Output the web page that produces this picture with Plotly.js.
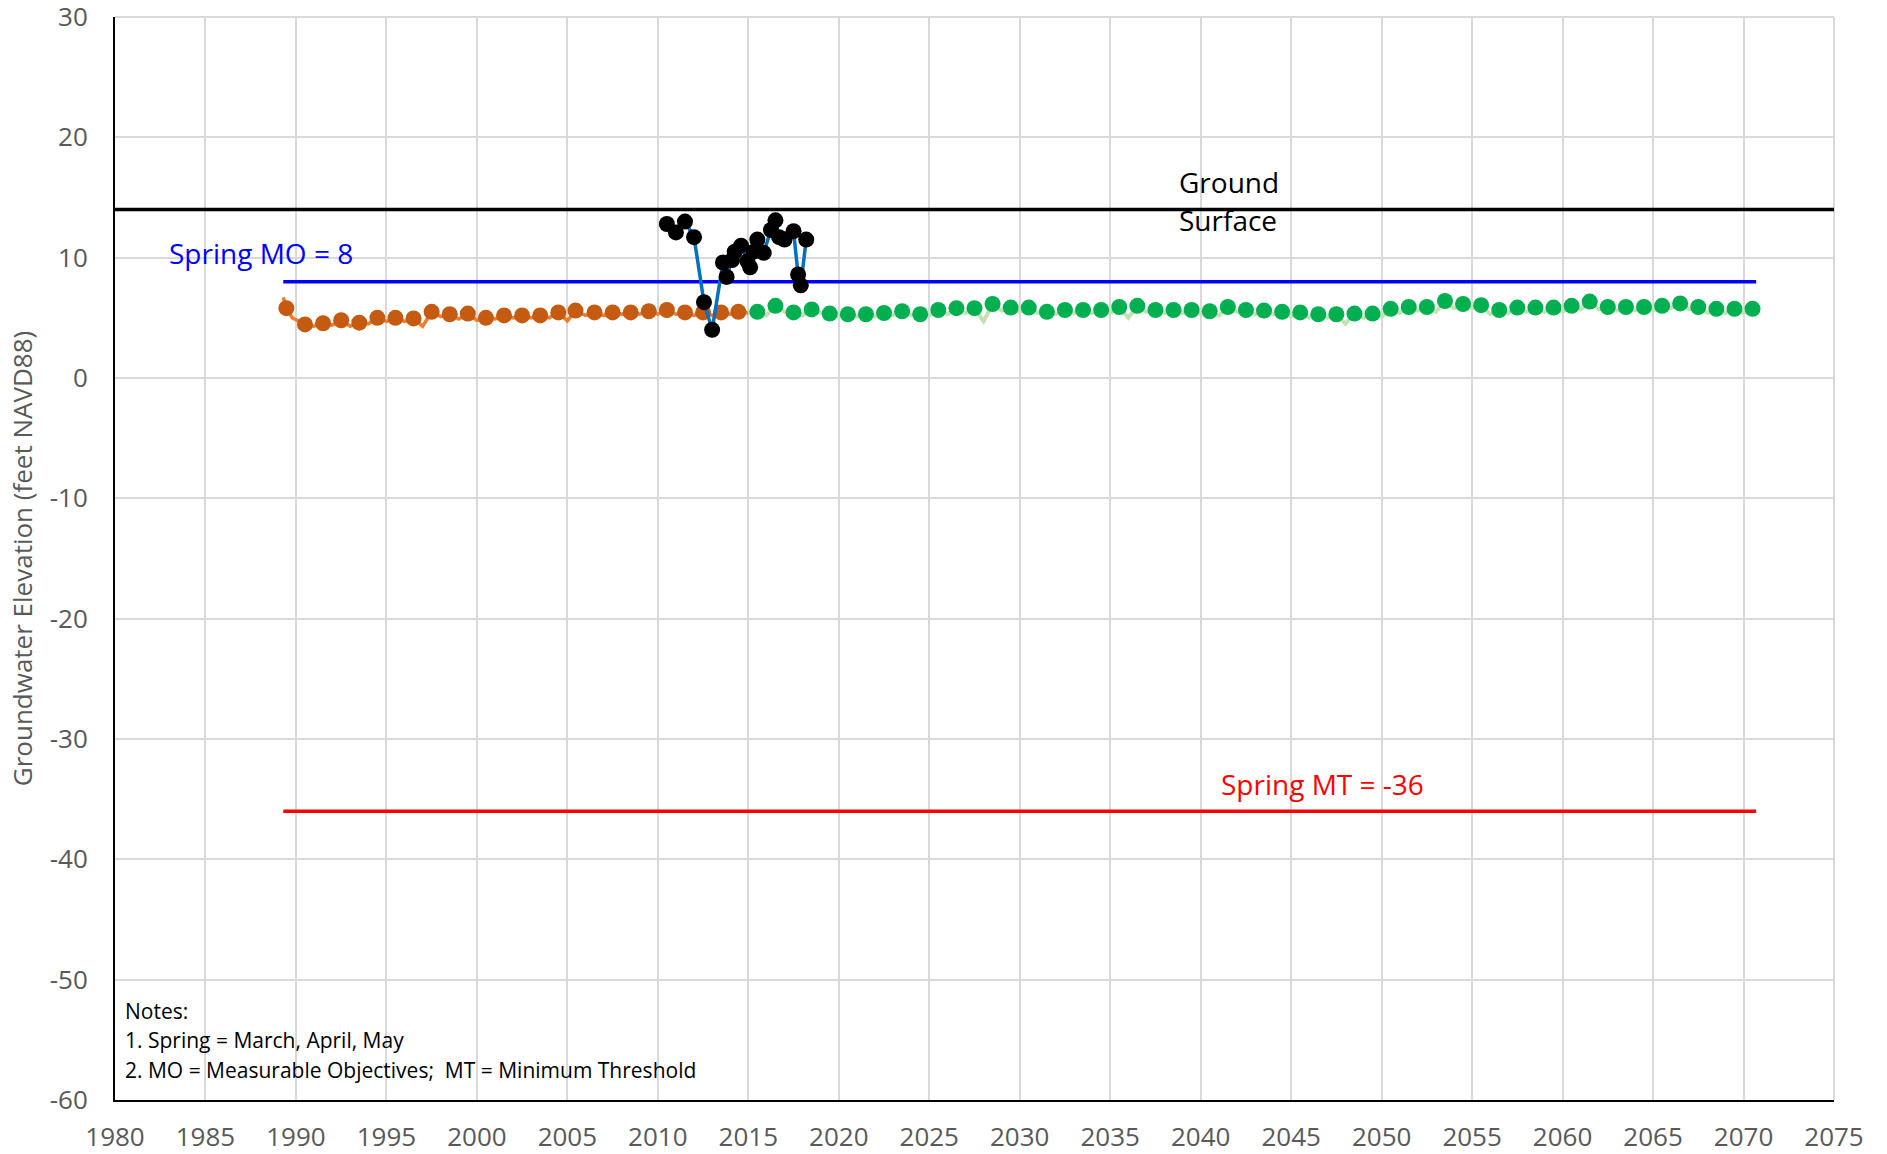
<!DOCTYPE html>
<html>
<head>
<meta charset="utf-8">
<script src="https://cdn.plot.ly/plotly-3.0.1.min.js"></script>
<style>
  html, body { margin: 0; padding: 0; background: #fff; }
  #chart { width: 1887px; height: 1154px; }
</style>
</head>
<body>
<div id="chart"></div>
<script>
// Historical spring levels (orange markers)
var histYears = [1989.47, 1990.5, 1991.5, 1992.5, 1993.5, 1994.5, 1995.5, 1996.5, 1997.5, 1998.5,
  1999.5, 2000.5, 2001.5, 2002.5, 2003.5, 2004.5, 2005.45, 2006.5, 2007.5, 2008.5,
  2009.5, 2010.5, 2011.5, 2012.5, 2013.5, 2014.45];
var histLevels = [5.8, 4.45, 4.55, 4.8, 4.6, 5.0, 5.0, 4.95, 5.5, 5.3,
  5.35, 5.0, 5.2, 5.2, 5.2, 5.45, 5.6, 5.45, 5.45, 5.45,
  5.55, 5.65, 5.45, 5.45, 5.45, 5.5];
// Historical in-between readings (orange line only)
var histLowYears = [1989.3, 1989.8, 1991.0, 1992.0, 1993.0, 1994.0, 1995.0, 1996.0, 1997.0, 1998.0,
  1999.0, 2000.0, 2001.0, 2002.0, 2003.0, 2004.0, 2005.0, 2006.0, 2007.0, 2008.0,
  2009.0, 2010.0, 2011.0, 2012.0, 2013.0, 2014.0, 2015.0];
var histLowLevels = [6.7, 5.0, 4.3, 4.4, 4.3, 4.5, 4.7, 4.7, 4.3, 5.1,
  4.9, 4.8, 4.9, 5.0, 5.0, 5.0, 4.75, 5.2, 5.2, 5.3,
  5.3, 5.3, 5.3, 5.2, 5.2, 5.3, 5.4];

// Projected spring levels (green markers)
var projYears = [2015.5, 2016.5, 2017.5, 2018.5, 2019.5, 2020.5, 2021.5, 2022.5, 2023.5, 2024.5,
  2025.5, 2026.5, 2027.5, 2028.5, 2029.5, 2030.5, 2031.5, 2032.5, 2033.5, 2034.5,
  2035.5, 2036.5, 2037.5, 2038.5, 2039.5, 2040.5, 2041.5, 2042.5, 2043.5, 2044.5,
  2045.5, 2046.5, 2047.5, 2048.5, 2049.5, 2050.5, 2051.5, 2052.5, 2053.5, 2054.5,
  2055.5, 2056.5, 2057.5, 2058.5, 2059.5, 2060.5, 2061.5, 2062.5, 2063.5, 2064.5,
  2065.5, 2066.5, 2067.5, 2068.5, 2069.5, 2070.5];
var projLevels = [5.5, 6.0, 5.45, 5.7, 5.35, 5.3, 5.3, 5.4, 5.55, 5.3,
  5.65, 5.8, 5.8, 6.15, 5.85, 5.85, 5.5, 5.65, 5.65, 5.65,
  5.9, 6.0, 5.65, 5.65, 5.65, 5.55, 5.9, 5.65, 5.6, 5.5,
  5.45, 5.3, 5.3, 5.35, 5.35, 5.75, 5.9, 5.9, 6.4, 6.15,
  6.05, 5.65, 5.85, 5.85, 5.85, 6.0, 6.35, 5.9, 5.9, 5.9,
  6.0, 6.2, 5.9, 5.75, 5.75, 5.75];
// Projected in-between readings (light green line only)
var projLowYears = [2015.0, 2016.0, 2017.0, 2018.0, 2019.0, 2020.0, 2021.0, 2022.0, 2023.0, 2024.0,
  2025.0, 2026.0, 2027.0, 2028.0, 2029.0, 2030.0, 2031.0, 2032.0, 2033.0, 2034.0,
  2035.0, 2036.0, 2037.0, 2038.0, 2039.0, 2040.0, 2041.0, 2042.0, 2043.0, 2044.0,
  2045.0, 2046.0, 2047.0, 2048.0, 2049.0, 2050.0, 2051.0, 2052.0, 2053.0, 2054.0,
  2055.0, 2056.0, 2057.0, 2058.0, 2059.0, 2060.0, 2061.0, 2062.0, 2063.0, 2064.0,
  2065.0, 2066.0, 2067.0, 2068.0, 2069.0, 2070.0, 2070.85];
var projLowLevels = [5.4, 5.2, 5.5, 5.2, 5.4, 5.1, 5.1, 5.1, 5.2, 5.2,
  5.2, 5.3, 5.4, 4.7, 5.6, 5.5, 5.4, 5.3, 5.4, 5.4,
  5.4, 5.0, 5.5, 5.4, 5.4, 5.3, 5.2, 5.5, 5.3, 5.3,
  5.1, 5.0, 5.0, 4.5, 5.0, 5.1, 5.4, 5.6, 5.5, 5.8,
  5.8, 5.3, 5.4, 5.5, 5.5, 5.5, 5.7, 5.7, 5.6, 5.6,
  5.6, 5.8, 5.7, 5.4, 5.4, 5.4, 5.9];

// Recent observed levels (black markers, blue line)
var obsYears = [2010.5, 2011.0, 2011.5, 2012.0, 2012.55, 2013.0, 2013.6, 2013.8, 2014.1, 2014.25,
  2014.6, 2014.95, 2015.1, 2015.3, 2015.5, 2015.85, 2016.25, 2016.5, 2016.7, 2017.0,
  2017.5, 2017.75, 2017.9, 2018.2];
var obsLevels = [12.8, 12.1, 13.0, 11.7, 6.3, 4.0, 9.6, 8.4, 9.8, 10.5,
  11.0, 9.7, 9.2, 10.5, 11.5, 10.4, 12.3, 13.1, 11.7, 11.5,
  12.2, 8.6, 7.7, 11.5];

// Reference levels
var groundSurface = 14;
var springMO = 8;
var springMT = -36;
var refStart = 1989.3, refEnd = 2070.7;

// Y tick labels (plain hyphen like the original)
var yTickVals = [-60, -50, -40, -30, -20, -10, 0, 10, 20, 30];
var yTickText = ["-60", "-50", "-40", "-30", "-20", "-10", "0", "10", "20", "30"];

function merge(xa, ya, xb, yb) {
  var pts = [];
  for (var i = 0; i < xa.length; i++) pts.push([xa[i], ya[i]]);
  for (var j = 0; j < xb.length; j++) pts.push([xb[j], yb[j]]);
  pts.sort(function (a, b) { return a[0] - b[0]; });
  return { x: pts.map(function (p) { return p[0]; }), y: pts.map(function (p) { return p[1]; }) };
}

var histLine = merge(histYears, histLevels, histLowYears, histLowLevels);
var projLine = merge(projYears, projLevels, projLowYears, projLowLevels);

var data = [
  { x: [1980, 2075], y: [groundSurface, groundSurface], mode: "lines", line: { color: "#000000", width: 3.5 } },
  { x: [refStart, refEnd], y: [springMO, springMO], mode: "lines", line: { color: "#0000FF", width: 3.5 } },
  { x: [refStart, refEnd], y: [springMT, springMT], mode: "lines", line: { color: "#FF0000", width: 3.5 } },
  { x: histLine.x, y: histLine.y, mode: "lines", line: { color: "#ED7D31", width: 3.5 } },
  { x: histYears, y: histLevels, mode: "markers", marker: { color: "#C55A11", size: 16 } },
  { x: projLine.x, y: projLine.y, mode: "lines", line: { color: "#C5E0B4", width: 4 } },
  { x: projYears, y: projLevels, mode: "markers", marker: { color: "#00B050", size: 16 } },
  { x: obsYears, y: obsLevels, mode: "lines+markers", line: { color: "#0070C0", width: 3.5 },
    marker: { color: "#000000", size: 16 } }
];

var tickFont = { family: "Open Sans, sans-serif", size: 26, color: "#595959" };

var layout = {
  width: 1887,
  height: 1154,
  margin: { l: 115, r: 53, t: 17, b: 54 },
  showlegend: false,
  plot_bgcolor: "#FFFFFF",
  paper_bgcolor: "#FFFFFF",
  font: { family: "Open Sans, sans-serif" },
  xaxis: {
    range: [1980, 2075],
    dtick: 5,
    tick0: 1980,
    showgrid: true,
    gridcolor: "#D9D9D9",
    gridwidth: 2,
    zeroline: false,
    showline: true,
    linecolor: "#000000",
    linewidth: 2,
    ticks: "",
    ticklabelstandoff: 13,
    ticklabeloverflow: "allow",
    tickfont: tickFont
  },
  yaxis: {
    range: [-60, 30],
    tickmode: "array",
    tickvals: yTickVals,
    ticktext: yTickText,
    showgrid: true,
    gridcolor: "#D9D9D9",
    gridwidth: 2,
    zeroline: false,
    showline: true,
    linecolor: "#000000",
    linewidth: 2,
    ticks: "",
    ticklabelstandoff: 20,
    ticklabeloverflow: "allow",
    tickfont: tickFont,
    title: {
      text: "Groundwater Elevation (feet NAVD88)",
      font: { family: "Open Sans, sans-serif", size: 26, color: "#595959" },
      standoff: 10
    }
  },
  shapes: [
    // frame gridlines at the top and right edges
    { type: "line", xref: "paper", yref: "paper", x0: 0, x1: 1, y0: 1, y1: 1, line: { color: "#D9D9D9", width: 2 }, layer: "below" },
    { type: "line", xref: "paper", yref: "paper", x0: 1, x1: 1, y0: 0, y1: 1, line: { color: "#D9D9D9", width: 2 }, layer: "below" }
  ],
  annotations: [
    { x: 1982.9, y: 10.4, xanchor: "left", yanchor: "middle", showarrow: false,
      text: "Spring MO = 8", font: { size: 28, color: "#0000FF" } },
    { x: 2038.7, y: 16.3, xanchor: "left", yanchor: "middle", showarrow: false,
      text: "Ground", font: { size: 28, color: "#000000" } },
    { x: 2038.7, y: 13.1, xanchor: "left", yanchor: "middle", showarrow: false,
      text: "Surface", font: { size: 28, color: "#000000" } },
    { x: 2041.0, y: -33.7, xanchor: "left", yanchor: "middle", showarrow: false,
      text: "Spring MT = -36", font: { size: 28, color: "#FF0000" } },
    { x: 1980.45, y: -52.6, xanchor: "left", yanchor: "middle", showarrow: false,
      text: "Notes:", font: { size: 21, color: "#000000" } },
    { x: 1980.45, y: -55.05, xanchor: "left", yanchor: "middle", showarrow: false,
      text: "1. Spring = March, April, May", font: { size: 21, color: "#000000" } },
    { x: 1980.45, y: -57.5, xanchor: "left", yanchor: "middle", showarrow: false,
      text: "2. MO = Measurable Objectives;&nbsp; MT = Minimum Threshold", font: { size: 21, color: "#000000" } }
  ]
};

Plotly.newPlot("chart", data, layout, { displayModeBar: false });
</script>
</body>
</html>
